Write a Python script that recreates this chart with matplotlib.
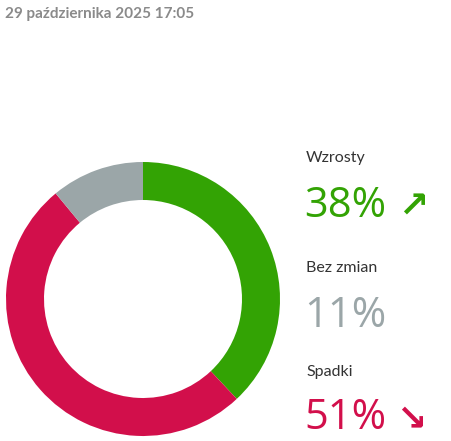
import matplotlib
matplotlib.use("Agg")
import matplotlib.pyplot as plt

labels = ["Wzrosty", "Spadki", "Bez zmian"]
values = [38, 51, 11]
colors = ["#33a304", "#d20f4b", "#9ba6a8"]
date_text = "29 października 2025 17:05"

W, H = 452, 441
fig = plt.figure(figsize=(W/100, H/100), dpi=100)
fig.patch.set_facecolor("white")

r = 137
cy = 299
ax = fig.add_axes([(143-r)/W, 1-(cy+r)/H, 2*r/W, 2*r/H])
ax.pie(values, colors=colors, startangle=90, counterclock=False,
       wedgeprops=dict(width=38/137, edgecolor="none"), radius=1)
ax.set_xlim(-1, 1); ax.set_ylim(-1, 1)
ax.set_aspect("equal"); ax.axis("off")

fam = ["Lato", "DejaVu Sans"]
fig.text(5/W, 1-14/H, date_text, fontsize=11, color="#8a8a8a", va="center", family=fam, fontweight="bold")

def t(x, y, s, size, color, weight="normal", family=fam):
    fig.text(x/W, 1-y/H, s, fontsize=size, color=color, va="center", family=family, fontweight=weight)

pf = ["Open Sans", "DejaVu Sans"]
t(306, 158, "Wzrosty", 11.5, "#333333")
t(304, 206, f"{values[0]}%", 30, colors[0], "medium", pf)
t(398, 208, "↗", 26, colors[0], "bold", ["DejaVu Sans"])
t(306, 268, "Bez zmian", 11.5, "#333333")
t(304, 316, f"{values[2]}%", 30, colors[2], "medium", pf)
t(306, 372, "Spadki", 11.5, "#333333")
t(304, 418, f"{values[1]}%", 30, colors[1], "medium", pf)
t(396, 420, "↘", 26, colors[1], "bold", ["DejaVu Sans"])

fig.savefig("out.png", dpi=100)
